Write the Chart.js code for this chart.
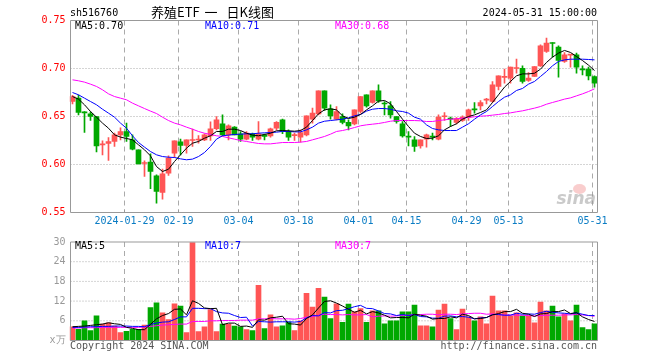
<!DOCTYPE html>
<html><head><meta charset="utf-8">
<script src="https://cdn.jsdelivr.net/npm/chart.js@4.4.1/dist/chart.umd.min.js"></script>
<style>
body{margin:0;background:#fff;width:660px;height:360px;overflow:hidden;position:relative;font-family:'DejaVu Sans Mono',monospace;}
canvas{position:absolute;left:0;}
.t{position:absolute;font-size:10px;line-height:12px;white-space:pre;font-family:'DejaVu Sans Mono',monospace;}
</style></head><body>
<canvas id="pc" width="660" height="232" style="top:0"></canvas>
<canvas id="vc" width="660" height="128" style="top:232px"></canvas>
<div class="t" style="left:70px;top:7px;color:#000">sh516760</div>
<div class="t" style="left:151px;top:4px;font-family:'Noto Sans CJK SC';font-size:13px;line-height:16px;color:#000">养殖ETF <span style="margin-left:2px">一</span> <span style="margin-left:6px">日K线图</span></div>
<div class="t" style="right:63px;top:7px;color:#000">2024-05-31 15:00:00</div>
<div class="t" style="left:75px;top:20px;color:#000">MA5:0.70</div>
<div class="t" style="left:205px;top:20px;color:#0000ff">MA10:0.71</div>
<div class="t" style="left:335px;top:20px;color:#ff00ff">MA30:0.68</div>
<div class="t" style="left:75px;top:240px;color:#000">MA5:5</div>
<div class="t" style="left:205px;top:240px;color:#0000ff">MA10:7</div>
<div class="t" style="left:335px;top:240px;color:#ff00ff">MA30:7</div>
<div class="t" style="left:70px;top:340px;color:#555">Copyright 2024 SINA.COM</div>
<div class="t" style="right:63px;top:340px;color:#555">http://finance.sina.com.cn</div>
<div style="position:absolute;left:573px;top:184px;width:13px;height:10px;border-radius:50%;background:rgba(235,90,90,0.3)"></div>
<div style="position:absolute;right:64px;top:189px;font:italic bold 17px 'DejaVu Sans';color:rgba(150,150,150,0.5);line-height:18px">sina</div>
<script>
const dates = ['2024-01-16','2024-01-17','2024-01-18','2024-01-19','2024-01-22','2024-01-23','2024-01-24','2024-01-25','2024-01-26','2024-01-29','2024-01-30','2024-01-31','2024-02-01','2024-02-02','2024-02-05','2024-02-06','2024-02-07','2024-02-08','2024-02-19','2024-02-20','2024-02-21','2024-02-22','2024-02-23','2024-02-26','2024-02-27','2024-02-28','2024-02-29','2024-03-01','2024-03-04','2024-03-05','2024-03-06','2024-03-07','2024-03-08','2024-03-11','2024-03-12','2024-03-13','2024-03-14','2024-03-15','2024-03-18','2024-03-19','2024-03-20','2024-03-21','2024-03-22','2024-03-25','2024-03-26','2024-03-27','2024-03-28','2024-03-29','2024-04-01','2024-04-02','2024-04-03','2024-04-08','2024-04-09','2024-04-10','2024-04-11','2024-04-12','2024-04-15','2024-04-16','2024-04-17','2024-04-18','2024-04-19','2024-04-22','2024-04-23','2024-04-24','2024-04-25','2024-04-26','2024-04-29','2024-04-30','2024-05-06','2024-05-07','2024-05-08','2024-05-09','2024-05-10','2024-05-13','2024-05-14','2024-05-15','2024-05-16','2024-05-17','2024-05-20','2024-05-21','2024-05-22','2024-05-23','2024-05-24','2024-05-27','2024-05-28','2024-05-29','2024-05-30','2024-05-31'];

const tickDates = ['2024-01-29','2024-02-19','2024-03-04','2024-03-18','2024-04-01','2024-04-15','2024-04-29','2024-05-13','2024-05-31'];
const tickTexts = ['2024-01-29','02-19','03-04','03-18','04-01','04-15','04-29','05-13','05-31'];

const opens = [0.6656,0.6691,0.6545,0.6528,0.6500,0.6205,0.6219,0.6240,0.6309,0.6344,
0.6257,0.6153,0.6010,0.6024,0.5882,0.5708,0.5910,0.6118,0.6236,0.6198,
0.6250,0.6255,0.6257,0.6299,0.6372,0.6424,0.6309,0.6389,0.6320,0.6264,
0.6320,0.6264,0.6309,0.6299,0.6378,0.6465,0.6344,0.6300,0.6285,0.6309,
0.6472,0.6528,0.6767,0.6580,0.6472,0.6500,0.6438,0.6424,0.6552,0.6726,
0.6646,0.6767,0.6635,0.6611,0.6500,0.6424,0.6288,0.6257,0.6194,0.6264,
0.6288,0.6264,0.6497,0.6475,0.6438,0.6458,0.6493,0.6571,0.6611,0.6670,
0.6656,0.6813,0.6908,0.6899,0.7000,0.7003,0.6875,0.6917,0.7028,0.7177,
0.7264,0.7222,0.7073,0.7140,0.7142,0.6988,0.6993,0.6917];
const highs = [0.6720,0.6722,0.6550,0.6549,0.6500,0.6247,0.6280,0.6326,0.6382,0.6431,
0.6309,0.6153,0.6038,0.6111,0.5892,0.5951,0.6090,0.6247,0.6264,0.6257,
0.6368,0.6300,0.6320,0.6444,0.6500,0.6517,0.6413,0.6396,0.6344,0.6344,
0.6326,0.6448,0.6316,0.6380,0.6448,0.6472,0.6361,0.6326,0.6361,0.6507,
0.6587,0.6767,0.6767,0.6622,0.6604,0.6528,0.6465,0.6569,0.6708,0.6726,
0.6767,0.6830,0.6656,0.6656,0.6500,0.6448,0.6344,0.6292,0.6257,0.6316,
0.6326,0.6517,0.6542,0.6493,0.6490,0.6507,0.6576,0.6646,0.6667,0.6690,
0.6865,0.6924,0.6993,0.7014,0.7097,0.7028,0.6958,0.7021,0.7247,0.7316,
0.7271,0.7236,0.7167,0.7142,0.7160,0.7028,0.7014,0.6924];
const lows = [0.6630,0.6517,0.6333,0.6458,0.6132,0.6100,0.6042,0.6188,0.6257,0.6240,
0.6153,0.6007,0.5875,0.5747,0.5597,0.5639,0.5885,0.6073,0.6100,0.6118,
0.6188,0.6222,0.6247,0.6250,0.6361,0.6299,0.6257,0.6309,0.6240,0.6257,
0.6250,0.6257,0.6257,0.6285,0.6361,0.6320,0.6250,0.6250,0.6233,0.6299,
0.6431,0.6517,0.6563,0.6472,0.6465,0.6424,0.6361,0.6413,0.6535,0.6597,
0.6639,0.6646,0.6517,0.6483,0.6431,0.6285,0.6194,0.6135,0.6170,0.6180,
0.6257,0.6257,0.6458,0.6396,0.6424,0.6448,0.6458,0.6535,0.6569,0.6632,
0.6646,0.6778,0.6847,0.6847,0.6951,0.6847,0.6865,0.6917,0.7021,0.7167,
0.7118,0.6910,0.7063,0.7014,0.6951,0.6934,0.6882,0.6806];
const closes = [0.6708,0.6542,0.6538,0.6500,0.6194,0.6210,0.6240,0.6309,0.6344,0.6292,
0.6160,0.6007,0.6017,0.5927,0.5719,0.5903,0.6066,0.6247,0.6198,0.6257,
0.6253,0.6257,0.6309,0.6372,0.6465,0.6309,0.6403,0.6309,0.6264,0.6326,
0.6285,0.6320,0.6292,0.6372,0.6438,0.6344,0.6285,0.6302,0.6333,0.6507,
0.6535,0.6767,0.6587,0.6507,0.6552,0.6438,0.6403,0.6569,0.6708,0.6611,
0.6767,0.6663,0.6630,0.6517,0.6448,0.6299,0.6285,0.6188,0.6257,0.6309,
0.6285,0.6493,0.6500,0.6472,0.6479,0.6493,0.6569,0.6569,0.6646,0.6674,
0.6830,0.6924,0.6913,0.7014,0.7003,0.6865,0.6899,0.7021,0.7236,0.7264,
0.7260,0.7083,0.7142,0.7142,0.7014,0.6986,0.6924,0.6847];

const ma5 = [0.6708,0.6681,0.6622,0.6552,0.6493,0.6431,0.6378,0.6309,0.6285,0.6271,
0.6257,0.6205,0.6153,0.6090,0.5979,0.5927,0.5951,0.6031,0.6101,0.6170,
0.6222,0.6240,0.6274,0.6299,0.6344,0.6344,0.6368,0.6368,0.6354,0.6326,
0.6306,0.6299,0.6313,0.6326,0.6351,0.6354,0.6351,0.6347,0.6354,0.6389,
0.6458,0.6528,0.6569,0.6580,0.6569,0.6507,0.6479,0.6493,0.6521,0.6569,
0.6611,0.6660,0.6667,0.6632,0.6552,0.6472,0.6396,0.6326,0.6292,0.6271,
0.6274,0.6299,0.6361,0.6396,0.6424,0.6472,0.6500,0.6517,0.6542,0.6569,
0.6646,0.6726,0.6806,0.6865,0.6924,0.6944,0.6944,0.6951,0.6993,0.7063,
0.7118,0.7160,0.7188,0.7167,0.7125,0.7083,0.7035,0.6979];
const ma10 = [0.6750,0.6726,0.6691,0.6656,0.6622,0.6576,0.6535,0.6493,0.6431,0.6378,
0.6299,0.6229,0.6181,0.6135,0.6101,0.6083,0.6076,0.6073,0.6059,0.6049,
0.6056,0.6083,0.6125,0.6188,0.6264,0.6299,0.6306,0.6313,0.6316,0.6320,
0.6320,0.6326,0.6330,0.6333,0.6337,0.6344,0.6344,0.6340,0.6340,0.6361,
0.6389,0.6431,0.6451,0.6458,0.6465,0.6472,0.6486,0.6507,0.6521,0.6556,
0.6576,0.6583,0.6583,0.6576,0.6559,0.6552,0.6535,0.6493,0.6472,0.6413,
0.6375,0.6361,0.6354,0.6354,0.6354,0.6389,0.6424,0.6472,0.6517,0.6552,
0.6604,0.6656,0.6701,0.6726,0.6771,0.6792,0.6837,0.6865,0.6917,0.6969,
0.7028,0.7073,0.7090,0.7097,0.7097,0.7097,0.7094,0.7090];
const ma30 = [0.6882,0.6872,0.6858,0.6837,0.6813,0.6778,0.6736,0.6708,0.6691,0.6674,
0.6639,0.6611,0.6583,0.6556,0.6531,0.6493,0.6458,0.6431,0.6413,0.6389,
0.6368,0.6344,0.6326,0.6313,0.6299,0.6292,0.6278,0.6264,0.6250,0.6240,
0.6229,0.6219,0.6215,0.6215,0.6222,0.6229,0.6229,0.6229,0.6233,0.6240,
0.6257,0.6274,0.6292,0.6316,0.6344,0.6354,0.6368,0.6385,0.6403,0.6413,
0.6420,0.6427,0.6438,0.6451,0.6458,0.6458,0.6458,0.6458,0.6455,0.6448,
0.6448,0.6458,0.6465,0.6472,0.6476,0.6483,0.6490,0.6497,0.6503,0.6507,
0.6514,0.6521,0.6531,0.6538,0.6549,0.6559,0.6573,0.6587,0.6604,0.6628,
0.6646,0.6663,0.6681,0.6694,0.6715,0.6736,0.6760,0.6788];

const volumes = [4.2,3.4,6.0,3.0,7.5,5.0,5.4,4.4,2.4,2.8,
3.4,3.4,4.7,10.0,11.5,8.4,6.4,11.2,10.5,2.4,
29.8,2.7,4.2,9.4,2.7,5.0,5.0,4.4,4.2,3.3,
3.0,16.8,3.6,7.8,4.2,4.5,5.6,3.0,6.0,14.4,
10.2,15.9,13.2,6.7,11.2,5.5,11.1,8.7,9.7,5.5,
9.0,9.0,5.1,6.0,6.0,8.7,8.7,10.8,4.5,4.5,
4.2,9.3,11.1,6.7,3.3,9.6,7.2,6.0,7.2,5.1,
13.5,9.0,9.0,7.5,8.4,7.5,7.5,5.4,11.7,9.0,
10.5,7.2,8.1,6.0,10.8,3.9,3.3,5.1];
const vma5 = [4.2,4.3,4.4,4.6,4.8,5.0,5.4,5.1,4.9,4.0,
3.7,3.3,3.3,4.9,6.6,7.6,8.2,9.5,9.6,7.8,
12.1,11.3,9.9,9.7,9.8,4.8,5.3,5.3,4.3,4.4,
4.0,6.3,6.2,6.9,7.1,7.4,5.1,5.0,4.7,6.7,
7.8,9.9,11.9,12.1,11.4,10.5,9.5,8.6,9.2,8.1,
8.8,8.4,7.7,6.9,7.0,7.0,6.9,8.0,7.7,7.4,
6.5,6.7,6.7,7.2,6.9,8.0,7.6,6.6,6.7,7.0,
7.8,8.2,8.8,8.8,9.5,8.3,8.0,7.3,8.1,8.2,
8.8,8.8,9.3,8.2,8.5,7.2,6.4,5.8];
const vma10 = [4.0,4.0,4.1,4.2,4.2,4.3,4.3,4.4,4.4,4.4,
4.3,4.3,4.2,4.9,5.3,5.6,5.7,6.4,7.2,7.2,
9.8,9.8,9.7,9.7,8.8,8.4,8.3,7.6,7.0,7.1,
4.4,5.8,5.7,5.6,5.7,5.7,5.7,5.6,5.8,6.9,
7.6,7.5,8.5,8.4,9.1,9.2,9.7,10.3,10.7,9.8,
9.7,9.0,8.2,8.1,7.6,7.9,7.6,7.9,7.3,7.2,
6.8,6.8,7.4,7.5,7.2,7.3,7.1,6.6,6.9,7.0,
7.9,7.9,7.7,7.7,8.3,8.0,8.1,8.0,8.5,8.9,
8.6,8.4,8.3,8.1,8.4,8.0,7.6,7.6];
const vma30 = [3.8,3.8,3.9,3.9,3.9,4.0,4.0,4.0,4.0,4.0,
4.0,4.0,4.1,4.3,4.5,4.7,4.8,4.9,5.0,5.0,
5.8,5.8,5.8,6.0,6.0,6.1,6.1,6.1,6.2,6.2,
6.2,6.6,6.6,6.7,6.6,6.6,6.6,6.5,6.7,7.1,
7.3,7.7,8.0,7.9,7.9,7.8,7.9,7.8,7.8,7.9,
7.2,7.4,7.5,7.4,7.5,7.6,7.7,7.9,7.9,8.0,
8.0,7.8,8.0,8.0,7.9,8.1,8.2,8.3,8.3,8.0,
8.1,7.9,7.7,7.8,7.7,7.7,7.6,7.5,7.6,7.7,
7.7,7.7,7.8,7.8,7.9,7.8,7.6,7.4];

const UP = '#ff5555', DOWN = '#00a800';
const candleColors = dates.map((d, i) => closes[i] >= opens[i] ? UP : DOWN);
const tickIdx = tickDates.map(d => dates.indexOf(d));
const labelAt = {};
tickIdx.forEach((idx, k) => { labelAt[idx] = tickTexts[k]; });

Chart.defaults.font.family = "'DejaVu Sans Mono', monospace";
Chart.defaults.font.size = 10;

function gridFrame(yLines, marks) {
  return {
    id: 'gridFrame',
    beforeDatasetsDraw(chart) {
      const {ctx, chartArea: a, scales: {x, y}} = chart;
      ctx.save();
      ctx.strokeStyle = '#aaaaaa';
      ctx.lineWidth = 1;
      ctx.setLineDash([1, 2]);
      yLines.forEach(v => {
        const py = y.getPixelForValue(v);
        ctx.beginPath(); ctx.moveTo(a.left + 1, py); ctx.lineTo(a.right, py); ctx.stroke();
      });
      ctx.setLineDash([5, 4]);
      tickIdx.forEach(i => {
        const px = x.getPixelForValue(i) - 2;
        ctx.beginPath(); ctx.moveTo(px, a.top); ctx.lineTo(px, a.bottom); ctx.stroke();
      });
      ctx.restore();
    },
    afterDatasetsDraw(chart) {
      const {ctx, chartArea: a, scales: {x}} = chart;
      ctx.save();
      ctx.strokeStyle = '#999999';
      ctx.lineWidth = 1;
      ctx.setLineDash([]);
      ctx.beginPath();
      ctx.moveTo(a.left + 1, a.top); ctx.lineTo(a.right, a.top);
      ctx.lineTo(a.right, a.bottom); ctx.lineTo(a.left + 1, a.bottom); ctx.closePath();
      ctx.stroke();
      if (marks) {
        tickIdx.forEach(i => {
          const px = x.getPixelForValue(i) - 2;
          ctx.beginPath(); ctx.moveTo(px, a.bottom); ctx.lineTo(px, a.bottom - 3); ctx.stroke();
        });
      }
      ctx.restore();
    }
  };
}

const lineDs = (data, color) => ({type: 'line', data, borderColor: color, borderWidth: 1, pointRadius: 0, fill: false, tension: 0, order: 0});

new Chart(document.getElementById('pc'), {
  type: 'bar',
  data: {
    labels: dates,
    datasets: [
      lineDs(ma5, '#000000'),
      lineDs(ma10, '#0000ff'),
      lineDs(ma30, '#ff00ff'),
      {type: 'bar', data: dates.map((d, i) => [opens[i], closes[i]]), backgroundColor: candleColors, barThickness: 5, grouped: false, minBarLength: 1, borderWidth: 0, order: 1},
      {type: 'bar', data: dates.map((d, i) => [lows[i], highs[i]]), backgroundColor: candleColors, barThickness: 1, grouped: false, minBarLength: 1, borderWidth: 0, order: 2}
    ]
  },
  options: {
    responsive: false, animation: false, events: [],
    layout: {padding: {top: 20.5, right: 62.5, left: 0, bottom: 0}},
    plugins: {legend: {display: false}, tooltip: {enabled: false}},
    scales: {
      x: {
        type: 'category', offset: true,
        grid: {display: false, drawTicks: false}, border: {display: false},
        ticks: {autoSkip: false, maxRotation: 0, minRotation: 0, padding: 3, labelOffset: -2, color: '#0a7cc4',
          callback: (v, i) => labelAt[i] || ''},
        afterFit: s => { s.height = 19.5; }
      },
      y: {
        min: 0.55, max: 0.75,
        grid: {display: false, drawTicks: false}, border: {display: false},
        ticks: {stepSize: 0.05, padding: 4, color: '#ff0000', callback: v => Number(v).toFixed(2)},
        afterFit: s => { s.width = 69.5; }
      }
    }
  },
  plugins: [gridFrame([0.60, 0.65, 0.70], true)]
});

new Chart(document.getElementById('vc'), {
  type: 'bar',
  data: {
    labels: dates,
    datasets: [
      lineDs(vma5, '#000000'),
      lineDs(vma10, '#0000ff'),
      lineDs(vma30, '#ff00ff'),
      {type: 'bar', data: volumes, backgroundColor: candleColors, barThickness: 5, grouped: false, borderWidth: 0, order: 1}
    ]
  },
  options: {
    responsive: false, animation: false, events: [],
    layout: {padding: {top: 8.5, right: 62.5, left: 0, bottom: 19.5}},
    plugins: {legend: {display: false}, tooltip: {enabled: false}},
    scales: {
      x: {type: 'category', offset: true, display: false},
      y: {
        min: 0, max: 30,
        grid: {display: false, drawTicks: false}, border: {display: false},
        ticks: {stepSize: 6, padding: 4, color: '#999999', callback: v => v === 0 ? 'x万' : String(v)},
        afterFit: s => { s.width = 69.5; }
      }
    }
  },
  plugins: [gridFrame([6, 12, 18, 24], false)]
});
</script>
</body></html>
